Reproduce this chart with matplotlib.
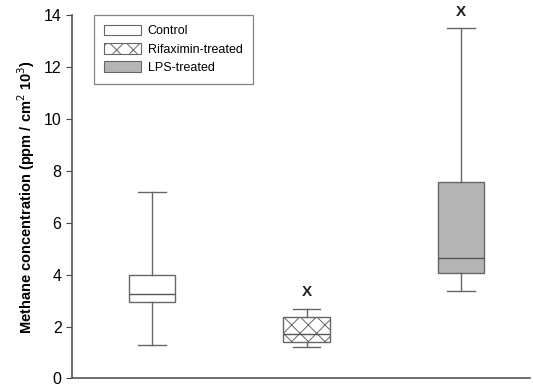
import matplotlib
matplotlib.use("Agg")
import matplotlib.pyplot as plt
from matplotlib.patches import Patch

plt.rcParams['font.family'] = ['Liberation Sans', 'DejaVu Sans']
plt.rcParams['hatch.color'] = '#777777'
plt.rcParams['hatch.linewidth'] = 0.7

# box statistics per group
groups = ['Control', 'Rifaximin-treated', 'LPS-treated']
whisker_low = [1.27, 1.22, 3.35]
q1 = [2.96, 1.40, 4.06]
median = [3.25, 1.73, 4.63]
q3 = [3.97, 2.36, 7.55]
whisker_high = [7.18, 2.69, 13.5]
marks = ['', 'X', 'X']

fills = ['white', 'white', '#b5b5b5']
hatches = [None, 'xx', None]
edge = '#666666'

stats = []
for i, g in enumerate(groups):
    stats.append({'label': g, 'whislo': whisker_low[i], 'q1': q1[i], 'med': median[i],
                  'q3': q3[i], 'whishi': whisker_high[i], 'fliers': []})

fig, ax = plt.subplots(figsize=(5.33, 3.87), dpi=100)
fig.subplots_adjust(left=0.135, right=0.995, bottom=0.022, top=0.962)

positions = [1, 2, 3]
bp = ax.bxp(stats, positions=positions, widths=0.3, patch_artist=True, showfliers=False,
            boxprops=dict(edgecolor=edge, linewidth=1.0),
            medianprops=dict(color='#555555', linewidth=1.0),
            whiskerprops=dict(color=edge, linewidth=1.0),
            capprops=dict(color=edge, linewidth=1.0), capwidths=0.18)
for box, fc, h in zip(bp['boxes'], fills, hatches):
    box.set_facecolor(fc)
    if h:
        box.set_hatch(h)

# significance marks above whiskers
for x, top, m in zip(positions, whisker_high, marks):
    if m:
        ax.text(x, top + 0.35, m, ha='center', va='bottom', fontsize=11, fontweight='bold',
                color='#222222')

ax.set_xlim(0.48, 3.45)
ax.set_ylim(0, 14)
ax.set_yticks(range(0, 15, 2))
ax.set_xticks([])
ax.tick_params(axis='y', labelsize=11.5, length=4, color='#444444', direction='out')
for s in ['top', 'right']:
    ax.spines[s].set_visible(False)
for s in ['left', 'bottom']:
    ax.spines[s].set_color('#555555')
    ax.spines[s].set_linewidth(1.2)

ax.set_ylabel('Methane concentration (ppm / cm$^2$ 10$^3$)', fontsize=10.5, fontweight='bold',
              labelpad=5)

handles = [Patch(facecolor=fc, edgecolor=edge, hatch=h, label=g, linewidth=0.8)
           for g, fc, h in zip(groups, fills, hatches)]
leg = ax.legend(handles=handles, loc='upper left', bbox_to_anchor=(0.048, 1.0), fontsize=9,
                frameon=True, fancybox=False, edgecolor='#666666', handlelength=3.0,
                handleheight=0.95, borderpad=0.8, labelspacing=0.45, handletextpad=0.5,
                borderaxespad=0.0)
leg.get_frame().set_linewidth(0.9)

fig.savefig('out.png', dpi=100)
